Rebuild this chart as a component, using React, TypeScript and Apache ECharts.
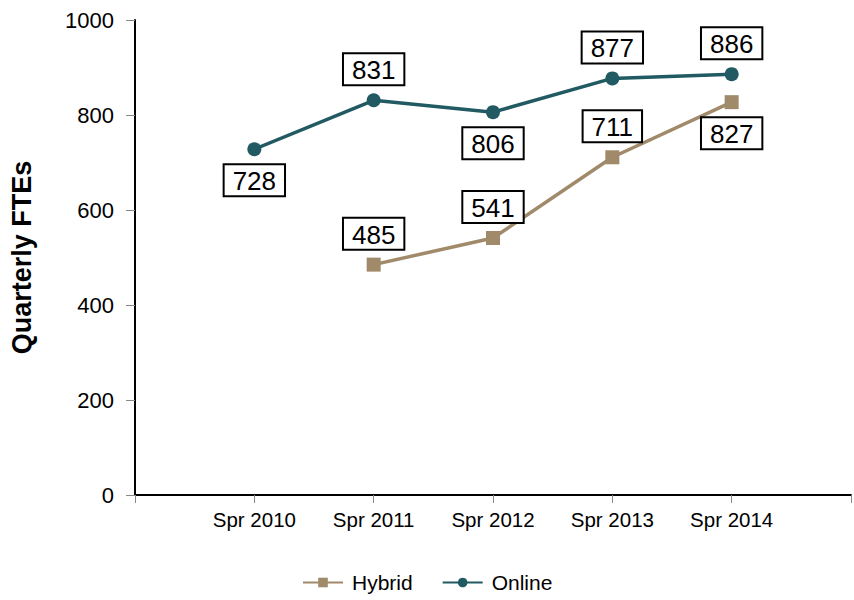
import React, { useEffect, useRef } from "react";
import * as echarts from "echarts";

const categories = ["", "Spr 2010", "Spr 2011", "Spr 2012", "Spr 2013", "Spr 2014", ""];
const hybridValues: (number | null)[] = [null, null, 485, 541, 711, 827, null];
const onlineValues: (number | null)[] = [null, 728, 831, 806, 877, 886, null];
const hybridLabelPos = ["top", "top", "top", "top", "top", "bottom", "top"];
const onlineLabelPos = ["top", "bottom", "top", "bottom", "top", "top", "top"];

const HYBRID = "#A08A6A";
const ONLINE = "#215A63";
const FONT = "Liberation Sans, Arial, sans-serif";

const labelStyle = {
  show: true,
  color: "#000",
  fontSize: 26,
  fontFamily: FONT,
  backgroundColor: "#fff",
  borderColor: "#000",
  borderWidth: 2,
  padding: [3, 8, 1, 8],
  distance: 9,
};

function withPos(vals: (number | null)[], pos: string[]) {
  return vals.map((v, i) => (v == null ? null : { value: v, label: { position: pos[i] } }));
}

export default function App() {
  const ref = useRef<HTMLDivElement>(null);
  useEffect(() => {
    if (!ref.current) return;
    const chart = echarts.init(ref.current, null, { renderer: "svg" });
    chart.setOption({
      animation: false,
      backgroundColor: "#fff",
      grid: { left: 135, right: -1, top: 20, bottom: 105, containLabel: false },
      legend: {
        bottom: 2,
        left: 297,
        itemWidth: 40,
        itemHeight: 12,
        itemGap: 29,
        textStyle: { fontSize: 21, fontFamily: FONT, color: "#000", padding: [0, 0, 0, 4] },
        data: ["Hybrid", "Online"],
      },
      xAxis: {
        type: "category",
        data: categories,
        boundaryGap: false,
        axisLine: { lineStyle: { color: "#000", width: 2 } },
        axisTick: { show: true, length: 8, lineStyle: { color: "#888", width: 1 } },
        axisLabel: { fontSize: 20.5, fontFamily: FONT, color: "#000", margin: 14 },
        splitLine: { show: false },
      },
      yAxis: {
        type: "value",
        min: 0,
        max: 1000,
        interval: 200,
        name: "Quarterly FTEs",
        nameLocation: "middle",
        nameGap: 100,
        nameTextStyle: { fontSize: 27, fontWeight: "bold", fontFamily: FONT, color: "#000" },
        axisLine: { show: true, lineStyle: { color: "#000", width: 2 } },
        axisTick: { show: true, length: 9, lineStyle: { color: "#888", width: 1 } },
        axisLabel: { fontSize: 22, fontFamily: FONT, color: "#000", margin: 21, formatter: (v: number) => String(v) },
        splitLine: { show: false },
      },
      series: [
        {
          name: "Hybrid",
          type: "line",
          data: withPos(hybridValues, hybridLabelPos),
          symbol: "rect",
          symbolSize: 14,
          lineStyle: { color: HYBRID, width: 3.5 },
          itemStyle: { color: HYBRID },
          label: labelStyle,
          connectNulls: false,
        },
        {
          name: "Online",
          type: "line",
          data: withPos(onlineValues, onlineLabelPos),
          symbol: "circle",
          symbolSize: 14,
          lineStyle: { color: ONLINE, width: 3.5 },
          itemStyle: { color: ONLINE },
          label: labelStyle,
          connectNulls: false,
        },
      ],
    });
    return () => chart.dispose();
  }, []);
  return <div ref={ref} style={{ width: 854, height: 600, position: "absolute", left: 0, top: 0 }} />;
}
